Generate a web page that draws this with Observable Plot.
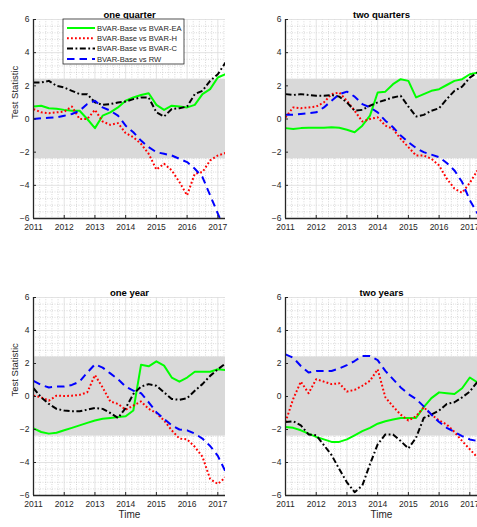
<!DOCTYPE html>
<html><head><meta charset="utf-8">
<script src="https://cdn.jsdelivr.net/npm/d3@7"></script>
<script src="https://cdn.jsdelivr.net/npm/@observablehq/plot@0.6"></script>
<style>
body{margin:0;background:#fff;overflow:hidden;}
#wrap{position:relative;width:477px;height:527px;font-family:"Liberation Sans",Arial,sans-serif;}
.panel{position:absolute;}
</style></head><body><div id="wrap"></div>
<script>
// ---------- data ----------
const time = [2011,2011.25,2011.5,2011.75,2012,2012.25,2012.5,2012.75,2013,2013.25,2013.5,2013.75,
  2014,2014.25,2014.5,2014.75,2015,2015.25,2015.5,2015.75,2016,2016.25,2016.5,2016.75,2017,2017.25];
const seriesNames = ["BVAR-Base vs BVAR-EA","BVAR-Base vs BVAR-H","BVAR-Base vs BVAR-C","BVAR-Base vs RW"];
const panelTitles = ["one quarter","two quarters","one year","two years"];
const xTicks = [2011,2012,2013,2014,2015,2016,2017];
const yTicks = [-6,-4,-2,0,2,4,6];
const xDomain = [2011, 2017.25];
const yDomain = [-6, 6];
const band = [-2.4, 2.4];

// one quarter
const q1_EA = [0.75,0.8,0.65,0.62,0.55,0.5,0.5,0.0,-0.55,0.2,0.4,0.7,1.1,1.3,1.45,1.55,0.85,0.55,0.8,0.75,0.7,0.85,1.5,1.8,2.5,2.7];
const q1_H  = [0.6,0.4,0.35,0.4,0.45,0.75,0.0,0.0,0.55,-0.15,-0.35,-0.25,-0.85,-1.1,-1.5,-2.1,-3.05,-2.7,-3.1,-3.8,-4.6,-3.3,-3.2,-2.5,-2.2,-2.05];
const q1_C  = [2.2,2.2,2.3,2.0,1.9,1.7,1.5,1.5,1.0,0.85,0.9,1.0,1.05,1.2,1.3,1.3,0.4,0.15,0.6,0.65,0.75,1.5,1.7,2.3,2.7,3.4];
const q1_RW = [0.0,0.05,0.07,0.1,0.2,0.3,0.5,0.9,1.1,0.7,0.5,0.2,-0.4,-0.8,-1.3,-1.7,-2.0,-2.1,-2.2,-2.4,-2.6,-3.0,-3.5,-4.6,-5.7,-6.8];
// two quarters
const q2_EA = [-0.55,-0.6,-0.55,-0.53,-0.53,-0.53,-0.5,-0.53,-0.65,-0.8,-0.4,0.2,1.6,1.65,2.1,2.4,2.3,1.3,1.5,1.7,1.8,2.05,2.3,2.4,2.7,2.8];
const q2_H  = [0.1,0.7,0.65,0.7,0.75,1.0,1.5,1.6,1.1,0.5,-0.15,0.0,0.1,-0.4,-0.6,-1.2,-1.7,-2.2,-2.2,-2.4,-2.8,-3.6,-4.2,-4.45,-3.85,-3.1];
const q2_C  = [1.5,1.45,1.5,1.45,1.4,1.4,1.45,1.35,1.0,0.5,0.55,0.8,1.0,1.15,1.3,1.4,0.75,0.15,0.25,0.5,0.65,1.2,1.7,1.95,2.5,2.8];
const q2_RW = [0.25,0.25,0.3,0.35,0.4,0.7,1.1,1.5,1.65,1.35,0.9,0.7,0.4,-0.1,-0.5,-1.0,-1.4,-1.75,-2.0,-2.15,-2.3,-2.65,-3.1,-3.8,-4.9,-5.7];
// one year
const y1_EA = [-1.93,-2.15,-2.25,-2.2,-2.05,-1.9,-1.75,-1.6,-1.45,-1.35,-1.3,-1.25,-1.2,-0.85,1.92,1.83,2.13,1.87,1.15,0.9,1.15,1.5,1.5,1.5,1.65,1.6];
const y1_H  = [0.05,-0.05,-0.25,0.05,0.03,0.05,0.1,0.25,1.3,0.55,-0.3,-0.45,-0.8,-0.55,-0.3,-0.75,-1.0,-1.45,-2.05,-2.55,-2.6,-3.05,-3.65,-5.0,-5.3,-4.9];
const y1_C  = [0.5,-0.05,-0.45,-0.75,-0.85,-0.9,-0.9,-0.8,-0.7,-0.75,-1.0,-1.3,-0.7,0.15,0.6,0.75,0.65,0.25,-0.15,-0.2,-0.1,0.35,0.75,1.25,1.65,2.0];
const y1_RW = [0.95,0.7,0.55,0.6,0.6,0.7,0.9,1.45,1.95,1.75,1.4,1.05,0.6,0.35,0.2,-0.35,-0.95,-1.35,-1.75,-2.0,-2.05,-2.25,-2.55,-3.0,-3.6,-4.55];
// two years
const y2_EA = [-1.85,-1.9,-2.05,-2.25,-2.45,-2.6,-2.75,-2.75,-2.6,-2.35,-2.1,-1.9,-1.65,-1.5,-1.4,-1.3,-1.3,-1.3,-0.65,-0.1,0.25,0.2,0.15,0.5,1.15,0.85];
const y2_H  = [-1.55,-0.15,0.9,0.2,1.05,0.9,0.75,0.8,0.3,0.4,0.65,0.95,1.65,-0.05,-0.6,-1.1,-1.45,-1.2,-0.65,-1.1,-1.45,-1.7,-2.15,-2.7,-3.2,-3.7];
const y2_C  = [-1.55,-1.5,-1.75,-2.3,-2.35,-2.95,-3.55,-4.4,-5.2,-5.8,-5.4,-4.1,-2.9,-2.3,-2.3,-2.7,-3.15,-2.5,-1.3,-1.1,-0.85,-0.45,-0.35,-0.05,0.3,0.9];
const y2_RW = [2.55,2.35,1.85,1.45,1.55,1.55,1.55,1.7,1.9,2.15,2.45,2.45,2.2,1.55,1.05,0.55,0.15,-0.15,-0.6,-1.1,-1.55,-1.9,-2.15,-2.4,-2.6,-2.7];

const panelData = [
  [q1_EA, q1_H, q1_C, q1_RW],
  [q2_EA, q2_H, q2_C, q2_RW],
  [y1_EA, y1_H, y1_C, y1_RW],
  [y2_EA, y2_H, y2_C, y2_RW]
];

// ---------- styles ----------
const lineStyles = [
  {stroke:"#00ff00", strokeWidth:2},
  {stroke:"#ff0000", strokeWidth:2, strokeDasharray:"1.8,2.2"},
  {stroke:"#000000", strokeWidth:2, strokeDasharray:"6,2.5,1.8,2.5"},
  {stroke:"#0000ff", strokeWidth:2, strokeDasharray:"7.5,5"}
];
const layout = [
  {x:33,  y:19,  w:192, h:199, yl:true,  xl:false, legend:true},
  {x:285, y:19,  w:192, h:199, yl:false, xl:false, legend:false},
  {x:33,  y:297, w:192, h:198, yl:true,  xl:true,  legend:false},
  {x:285, y:297, w:192, h:198, yl:false, xl:true,  legend:false}
];
const mL = 33, mT = 20, mB = 30, mR = 0;
const ink = "#262626";
const minorX = d3.range(xDomain[0], xDomain[1] + 1e-9, 0.2).filter(v => Math.abs(v - Math.round(v)) > 1e-6);
const minorY = d3.range(yDomain[0], yDomain[1] + 1e-9, 0.4).filter(v => Math.abs(v/2 - Math.round(v/2)) > 1e-6);

const wrap = document.getElementById("wrap");

panelData.forEach((series, i) => {
  const L = layout[i];
  const marks = [
    Plot.ruleX(minorX, {stroke:"#bdbdbd", strokeWidth:0.7, strokeDasharray:"0.8,1.6"}),
    Plot.ruleY(minorY, {stroke:"#bdbdbd", strokeWidth:0.7, strokeDasharray:"0.8,1.6"}),
    Plot.ruleX(xTicks, {stroke:"#dcdcdc", strokeWidth:0.8}),
    Plot.ruleY(yTicks, {stroke:"#dcdcdc", strokeWidth:0.8}),
    Plot.rect([band], {y1: d => d[0], y2: d => d[1], fill:"#d9d9d9"}),
    ...series.map((vals, k) => Plot.line(vals, {x: time, y: d => d, clip: true, strokeLinecap:"butt", ...lineStyles[k]})),
    Plot.ruleX([xDomain[0]], {stroke: ink, strokeWidth:1.3}),
    Plot.ruleY([yDomain[0]], {stroke: ink, strokeWidth:1.3}),
    Plot.tickX(xTicks, {x: d => d, stroke: ink, strokeWidth:1, insetTop: L.h - 3}),
    Plot.tickY(yTicks, {y: d => d, stroke: ink, strokeWidth:1, insetRight: L.w - 3}),
    Plot.axisX(xTicks, {tickSize:0, tickPadding:5, fontSize:8.5, fill: ink, label:null, tickFormat: d => String(d)}),
    Plot.axisY(yTicks, {tickSize:0, tickPadding:4, fontSize:8.5, fill: ink, label:null}),
    Plot.text([panelTitles[i]], {text: d => d, frameAnchor:"top", dy:-8, fontWeight:"bold", fontSize:9.5, fill:"#000"})
  ];
  if (L.yl) marks.push(Plot.text(["Test Statistic"], {text: d => d, frameAnchor:"left", rotate:-90, dx:-19, fontSize:9.5, fill: ink}));
  if (L.xl) marks.push(Plot.text(["Time"], {text: d => d, frameAnchor:"bottom", dy:22, fontSize:10, fill: ink}));

  const svg = Plot.plot({
    width: mL + L.w + mR,
    height: mT + L.h + mB,
    marginLeft: mL, marginRight: mR, marginTop: mT, marginBottom: mB,
    x: {domain: xDomain, axis: null},
    y: {domain: yDomain, axis: null},
    style: {background:"transparent", fontFamily:"Liberation Sans, Arial, sans-serif", overflow:"visible"},
    marks
  });
  svg.classList.add("panel");
  svg.style.left = (L.x - mL) + "px";
  svg.style.top = (L.y - mT) + "px";
  wrap.appendChild(svg);

  if (L.legend) {
    const lg = d3.create("svg").attr("class","panel")
      .attr("width", 124).attr("height", 47)
      .style("left", "62px").style("top", "18px");
    lg.append("rect").attr("x",1).attr("y",1).attr("width",121).attr("height",45)
      .attr("fill","#fff").attr("stroke","#262626").attr("stroke-width",0.8);
    seriesNames.forEach((name, k) => {
      const yy = 10 + k * 10.3;
      const st = lineStyles[k];
      lg.append("line").attr("x1",5).attr("x2",33).attr("y1",yy).attr("y2",yy)
        .attr("stroke", st.stroke).attr("stroke-width", st.strokeWidth)
        .attr("stroke-dasharray", st.strokeDasharray || null);
      lg.append("text").attr("x",35).attr("y",yy).attr("dy","0.35em")
        .attr("font-size",7.6).attr("fill","#262626")
        .attr("font-family","Liberation Sans, Arial, sans-serif").text(name);
    });
    wrap.appendChild(lg.node());
  }
});
</script>
</body></html>
